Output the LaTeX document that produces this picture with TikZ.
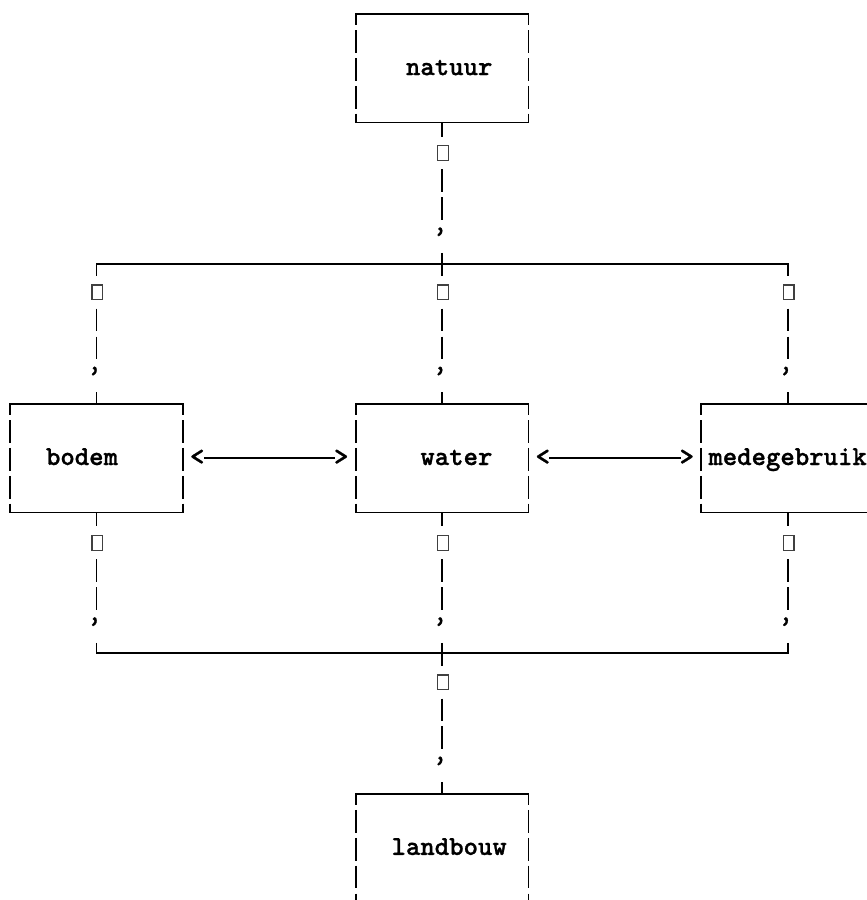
\documentclass[tikz,border=0pt]{standalone}
\usepackage{fontspec}
\newfontfamily\asciifont{lmmonolt10-bold.otf}[FakeBold=1]
% box label: fixed-width line with a left indent and a strut that fixes the baseline
\newcommand\inbox[2]{\makebox[172.8pt][l]{\hspace*{#1}\rule[-6.3pt]{0pt}{26.3pt}#2}}
\begin{document}
\begin{tikzpicture}[x=1pt,y=-1pt,
  every node/.style={inner sep=0pt, outer sep=0pt,
    font=\asciifont\fontsize{27.43pt}{27.85pt}\selectfont},
  boxnode/.style={minimum width=172.8pt, minimum height=108.5pt},
  hline/.style={line width=1.8pt, line cap=rect},
  vside/.style={line width=1.8pt, dash pattern=on 22.8pt off 5.05pt, dash phase=11.7pt},
  spine/.style={line width=1.8pt, dash pattern=on 14pt off 32.9pt on 22.8pt off 5.05pt
    on 22.8pt off 32.9pt on 22.8pt off 32.9pt on 22.8pt off 5.05pt on 22.8pt off 32.9pt
    on 11.7pt off 40pt},
  drop/.style={line width=1.8pt, dash pattern=on 11.75pt off 32.9pt on 22.8pt off 5.05pt
    on 22.8pt off 32.9pt on 11.7pt off 40pt},
  rise/.style={line width=1.8pt, dash pattern=on 14pt off 32.9pt on 22.8pt off 5.05pt
    on 22.8pt off 32.9pt on 9.85pt off 40pt},
  tofu/.style={draw=black!75, line width=1.3pt, minimum width=10.8pt, minimum height=14.8pt},
  glyph/.style={anchor=base west}]

\useasboundingbox (0,0) rectangle (867,900);
\clip (0,0) rectangle (867,900);

% boxes
\node[boxnode] (nat)  at (442,68.25)   {\inbox{50.4pt}{natuur}};
\node[boxnode] (bod)  at (96.4,458.15) {\inbox{36pt}{bodem}};
\node[boxnode] (wat)  at (442,458.15)  {\inbox{64.8pt}{water}};
\node[boxnode] (mede) at (787.6,458.15){\inbox{7.2pt}{medegebruik}};
\node[boxnode] (land) at (442,848.05)  {\inbox{36pt}{landbouw}};

\foreach \b in {nat,bod,wat,mede,land}{
  \draw[hline] (\b.north west) -- (\b.north east);
  \draw[hline] (\b.south west) -- (\b.south east);
  \draw[vside] (\b.north west) -- (\b.south west);
  \draw[vside] (\b.north east) -- (\b.south east);
}

% bus lines
\coordinate (upL) at (96.4,264);
\coordinate (upR) at (787.6,264);
\coordinate (loL) at (96.4,652.7);
\coordinate (loR) at (787.6,652.7);
\draw[hline] (upL) -- (upR);
\draw[hline] (loL) -- (loR);

% vertical connectors
\draw[spine] (nat.south) -- (wat.north);
\draw[drop] (upL) -- (bod.north);
\draw[drop] (upR) -- (mede.north);
\draw[spine] (wat.south) -- (land.north);
\draw[rise] (bod.south) -- (loL);
\draw[rise] (mede.south) -- (loR);

% two-way links between the middle boxes
\node[glyph] (la) at (190,465)   {<};
\node[glyph] (ra) at (334,465)   {>};
\node[glyph] (lb) at (535.6,465) {<};
\node[glyph] (rb) at (679.6,465) {>};
\draw[hline] ([yshift=6.7pt]la.base east) -- ([yshift=6.7pt]ra.base west);
\draw[hline] ([yshift=6.7pt]lb.base east) -- ([yshift=6.7pt]rb.base west);

% missing-glyph boxes and quote marks along the connectors
\foreach \x/\y [count=\i] in {443/153.1, 97.4/292.35, 443/292.35, 788.6/292.35,
    97.4/543, 443/543, 788.6/543, 443/682.25}
  \node[tofu] (tofu\i) at (\x,\y) {};
\foreach \x/\y [count=\i] in {432.8/244.2, 87.2/383.45, 432.8/383.45, 778.4/383.45,
    87.2/634.1, 432.8/634.1, 778.4/634.1, 432.8/773.35}
  \node[glyph] (q\i) at (\x,\y) {’};
\end{tikzpicture}
\end{document}
